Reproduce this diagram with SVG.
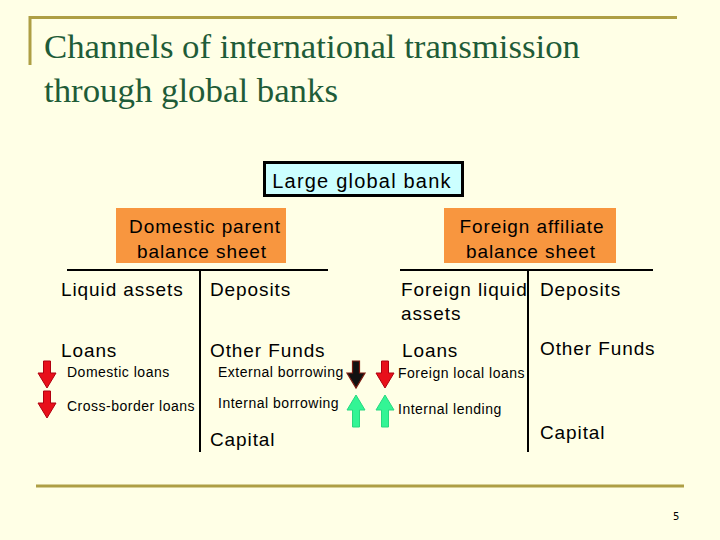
<svg xmlns="http://www.w3.org/2000/svg" width="720" height="540" viewBox="0 0 720 540">
<defs>
<style>
.title{font-family:"Liberation Serif","DejaVu Serif",serif;font-size:33px;fill:#1F5C38}
.big{font-family:"Liberation Sans",Arial,sans-serif;font-size:20px;letter-spacing:1.2px;fill:#000}
.hd{font-family:"Liberation Sans",Arial,sans-serif;font-size:19px;letter-spacing:0.9px;fill:#000}
.sm{font-family:"Liberation Sans",Arial,sans-serif;font-size:14px;letter-spacing:0.5px;fill:#000}
.gold{stroke:#AE9F45;stroke-width:3;fill:none}
.tline{stroke:#000;stroke-width:2;fill:none}
.orange{fill:#F8963F}
.red{fill:#E8101A;stroke:#B00010;stroke-width:1}
.dark{fill:#111;stroke:#7A1A10;stroke-width:1.2}
.green{fill:#33F595;stroke:#28D880;stroke-width:1}
</style>
<path id="down" d="M-3.5,0 H3.5 V12 H9 L0,27 L-9,12 H-3.5 Z"/>
<path id="up" d="M-3.5,32 H3.5 V15 H9 L0,0 L-9,15 H-3.5 Z"/>
</defs>
<rect width="720" height="540" fill="#FFFFE6"/>
<g id="frame">
<path class="gold" d="M30,65 V17.5 H677"/>
<path class="gold" d="M36,486 H684"/>
</g>
<g id="title">
<text class="title" x="44" y="58" textLength="536" lengthAdjust="spacingAndGlyphs">Channels of international transmission</text>
<text class="title" x="44" y="102" textLength="294" lengthAdjust="spacingAndGlyphs">through global banks</text>
</g>
<g id="large-global-bank">
<rect x="264.5" y="162.5" width="198" height="33" fill="#CCFFFF" stroke="#000" stroke-width="3"/>
<text class="big" x="362" y="188" text-anchor="middle">Large global bank</text>
</g>
<g id="domestic-parent">
<rect class="orange" x="116" y="208" width="170" height="55"/>
<text class="hd" x="205" y="233" text-anchor="middle">Domestic  parent</text>
<text class="hd" x="202" y="258" text-anchor="middle">balance sheet</text>
</g>
<g id="foreign-affiliate">
<rect class="orange" x="444" y="208" width="172" height="55"/>
<text class="hd" x="532" y="233" text-anchor="middle">Foreign affiliate</text>
<text class="hd" x="531" y="258" text-anchor="middle">balance sheet</text>
</g>
<g id="connectors">
<path class="tline" d="M67,270 H328 M200,270 V452"/>
<path class="tline" d="M400,270 H653 M528,270 V452"/>
</g>
<g id="domestic-entries">
<text class="hd" x="61" y="296">Liquid assets</text>
<text class="hd" x="210" y="296">Deposits</text>
<text class="hd" x="61" y="357">Loans</text>
<text class="hd" x="210" y="357">Other Funds</text>
<text class="sm" x="67" y="377">Domestic loans</text>
<text class="sm" x="67" y="411">Cross-border loans</text>
<text class="sm" x="218" y="377">External borrowing</text>
<text class="sm" x="218" y="408">Internal borrowing</text>
<text class="hd" x="210" y="446">Capital</text>
</g>
<g id="foreign-entries">
<text class="hd" x="401" y="296">Foreign liquid</text>
<text class="hd" x="401" y="320">assets</text>
<text class="hd" x="540" y="296">Deposits</text>
<text class="hd" x="402" y="357">Loans</text>
<text class="hd" x="540" y="355">Other Funds</text>
<text class="sm" x="398" y="378">Foreign local loans</text>
<text class="sm" x="398" y="414">Internal lending</text>
<text class="hd" x="540" y="439">Capital</text>
</g>
<g id="arrows">
<use href="#down" class="red" x="47" y="361"/>
<use href="#down" class="red" x="47" y="391"/>
<use href="#down" class="dark" x="356" y="361"/>
<use href="#down" class="red" x="385" y="361"/>
<use href="#up" class="green" x="356" y="395"/>
<use href="#up" class="green" x="385" y="395"/>
</g>
<text x="673" y="520" font-family="'DejaVu Sans',sans-serif" font-size="10" fill="#000">5</text>
</svg>
